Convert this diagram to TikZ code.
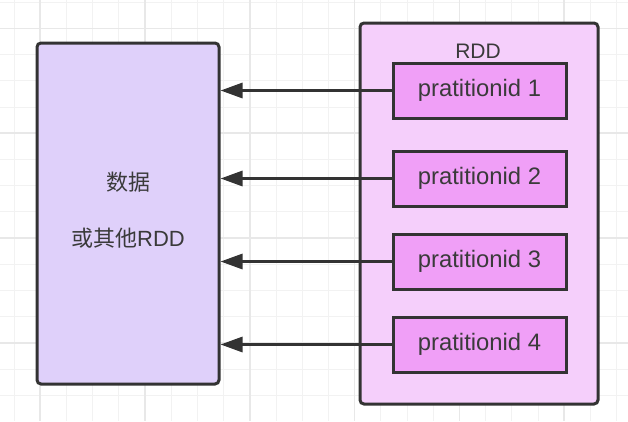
\documentclass[tikz,border=0pt]{standalone}
\usepackage{fontspec}
\setmainfont{Liberation Sans}
\newfontfamily\cjk{Noto Sans CJK SC}
\usetikzlibrary{arrows.meta,positioning}
\definecolor{gridminor}{HTML}{F2F2F2}
\definecolor{gridmajor}{HTML}{E8E8E8}
\definecolor{edge}{HTML}{333333}
\definecolor{ink}{HTML}{3A3A3A}
\definecolor{datafill}{HTML}{DFD0FA}
\definecolor{rddfill}{HTML}{F5CFFB}
\definecolor{partfill}{HTML}{F09FF7}

\begin{document}
\begin{tikzpicture}[x=1pt, y=-1pt,
        box/.style={draw=edge, line width=3pt, rounded corners=4pt, inner sep=0pt},
        part/.style={draw=edge, line width=3pt, fill=partfill, inner sep=0pt,
            minimum width=173pt, minimum height=55pt, text=ink,
            font=\fontsize{23.8}{28}\selectfont},
        link/.style={draw=edge, line width=3pt, -{Triangle[length=22pt,width=15pt]}}]
    \useasboundingbox[fill=white] (0,0) rectangle (628,421);
    \foreach \i in {0,...,23} {
        \draw[gridminor, line width=1pt] (14+26.2*\i,0) -- (14+26.2*\i,421);
    }
    \foreach \i in {0,...,15} {
        \draw[gridminor, line width=1pt] (0,2.2+26.2*\i) -- (628,2.2+26.2*\i);
    }
    \foreach \i in {0,...,5} {
        \draw[gridmajor, line width=1.6pt] (40.2+104.8*\i,0) -- (40.2+104.8*\i,421);
    }
    \foreach \i in {0,...,3} {
        \draw[gridmajor, line width=1.6pt] (0,28.4+104.8*\i) -- (628,28.4+104.8*\i);
    }
    \node[box, fill=datafill, minimum width=182pt, minimum height=341pt] (data) at (128,213.5) {};
    \node[text=ink, align=center, font=\fontsize{22}{56}\selectfont]
        (datatext) at (128,210) {{\cjk 数据}\\{\cjk 或其他}RDD};
    \node[box, fill=rddfill, minimum width=238pt, minimum height=381pt] (rdd) at (479,213.5) {};
    \node[text=ink, font=\fontsize{21}{24}\selectfont] (rddlabel) at (478,51) {RDD};
    \node[part] (p1) at (479.5,90.5) {pratitionid 1};
    \node[part] (p2) at (479.5,178.5) {pratitionid 2};
    \node[part] (p3) at (479.5,261.5) {pratitionid 3};
    \node[part] (p4) at (479.5,344.5) {pratitionid 4};
    \foreach \p in {p1,p2,p3,p4} {
        \draw[link] (\p.west) -- (\p.west -| data.east);
    }
\end{tikzpicture}
\end{document}
